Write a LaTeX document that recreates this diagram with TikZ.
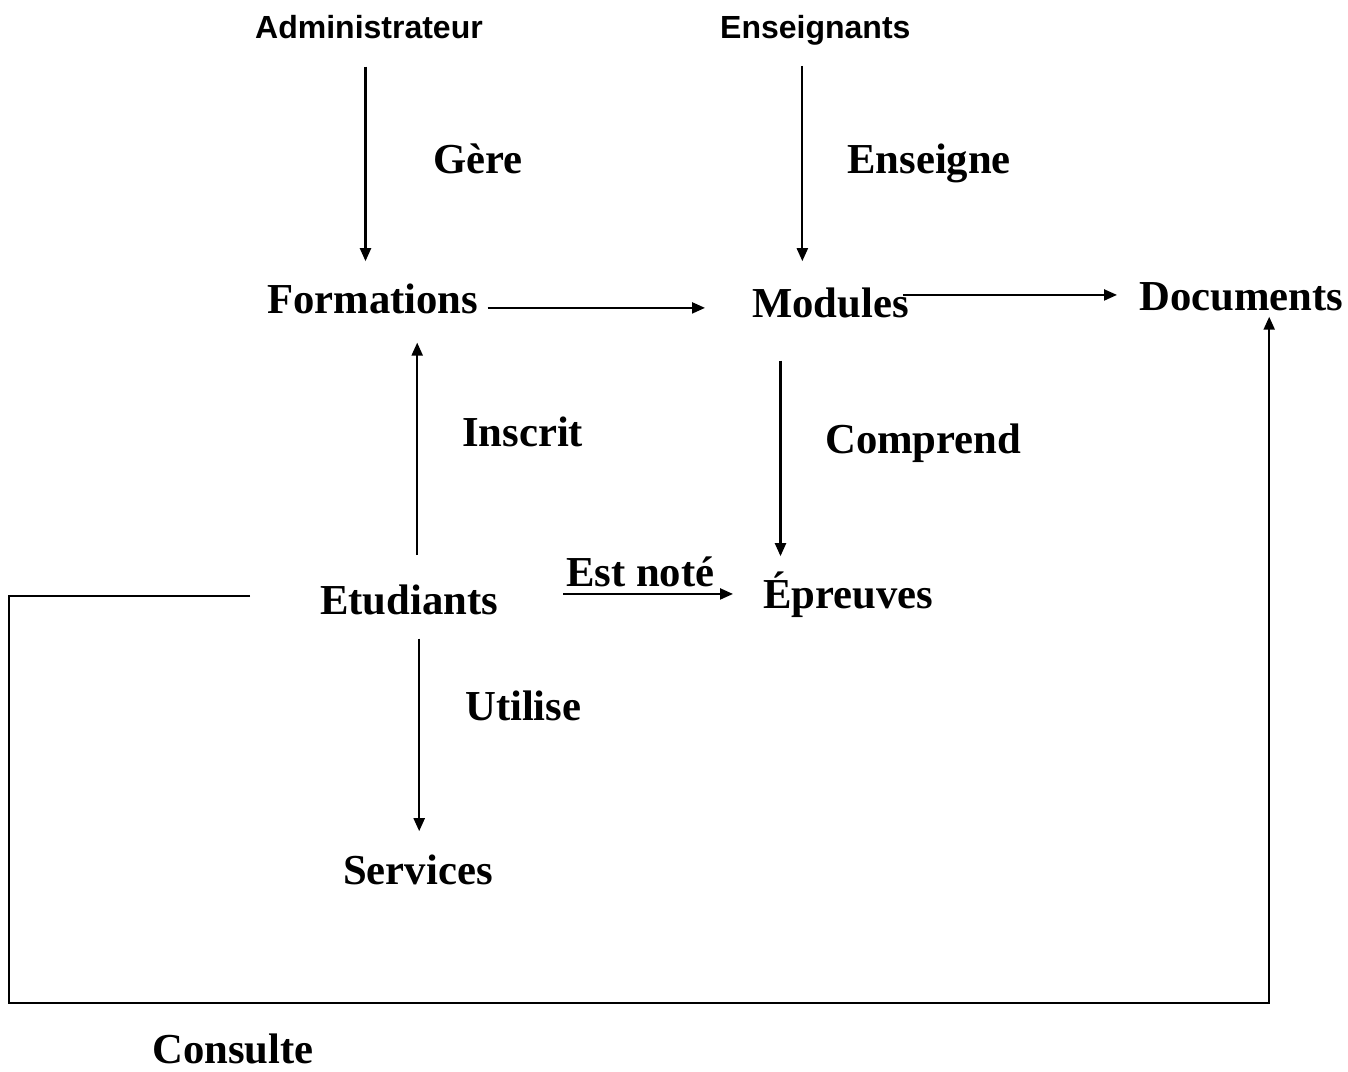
\documentclass[tikz,border=0pt]{standalone}
\usepackage{fontspec}
\setmainfont{Liberation Serif}
\newfontfamily\headfont{Liberation Sans}
\usetikzlibrary{arrows.meta,calc}
\begin{document}
\begin{tikzpicture}[x=1pt,y=-1pt,
  entity/.style={font=\fontsize{42.7}{48}\selectfont\bfseries, inner sep=0pt, anchor=base west},
  actor/.style={font=\headfont\fontsize{32}{36}\selectfont\bfseries, inner sep=0pt, anchor=base west},
  rel/.style={font=\fontsize{42.7}{48}\selectfont\bfseries, inner sep=0pt, anchor=base west},
  arr/.style={line width=2.2pt, -{Triangle[length=13pt,width=11pt]}}]
\useasboundingbox[fill=white] (0,0) rectangle (1348,1071);

% actors
\node[actor] (adm) at (255,38) {Administrateur};
\node[actor] (ens) at (720,38) {Enseignants};

% entities
\node[entity] (form) at (267,313) {Formations};
\node[entity] (mod)  at (752,317) {Modules};
\node[entity] (doc)  at (1139,310) {Documents};
\node[entity] (etu)  at (320,614) {Etudiants};
\node[entity] (epr)  at (763,608) {Épreuves};
\node[entity] (serv) at (343,884) {Services};

% relation labels
\node[rel] (lgere)  at (433,173) {Gère};
\node[rel] (lens)   at (847,173) {Enseigne};
\node[rel] (lins)   at (462,446) {Inscrit};
\node[rel] (lcomp)  at (825,453) {Comprend};
\node[rel] (lnote)  at (566,586) {Est noté};
\node[rel] (luti)   at (465,720) {Utilise};
\node[rel] (lcons)  at (152,1063) {Consulte};

% connectors
\draw[arr, shorten <=28pt, shorten >=22pt]
  ([xshift=-3.5pt]adm.south) -- ([xshift=-3.5pt]adm.south |- form.north);
\draw[arr, shorten <=21pt, shorten >=26pt]
  ([xshift=-13pt]ens.south) -- ([xshift=-13pt]ens.south |- mod.north);
\draw[arr, shorten <=9pt, shorten >=47pt]
  ([yshift=-9.5pt]form.east) -- ([yshift=-9.5pt]form.east -| mod.west);
\draw[arr, shorten >=22pt]
  ([xshift=-6pt,yshift=7.5pt]mod.east) -- ([yshift=7.5pt]mod.east -| doc.west);
\draw[arr, shorten <=29pt, shorten >=29pt]
  ([xshift=8pt]etu.north) -- ([xshift=8pt]etu.north |- form.south);
\draw[arr, shorten <=43pt, shorten >=15pt]
  ([xshift=-50pt]mod.south) -- ([xshift=-50pt]mod.south |- epr.north);
\draw[arr, shorten <=65pt, shorten >=30pt]
  ([yshift=5.5pt]etu.east) -- ([yshift=5.5pt]etu.east -| epr.west);
\draw[arr, shorten <=24pt, shorten >=23pt]
  ([xshift=10pt]etu.south) -- ([xshift=10pt]etu.south |- serv.north);

% consultation loop round the diagram
\coordinate (corner) at (9,1003);
\draw[arr, shorten >=6pt]
  ([xshift=-70pt,yshift=3.5pt]etu.west) -| (corner) -| ([xshift=28pt]doc.south);
\end{tikzpicture}
\end{document}
